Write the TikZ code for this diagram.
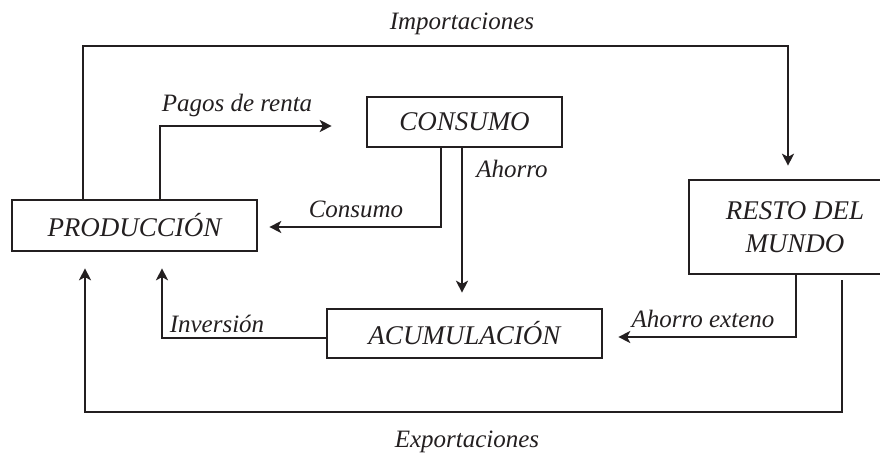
\documentclass[tikz,border=0pt]{standalone}
\usepackage{fontspec}
\setmainfont{Liberation Serif}
\usepackage{tikz}
\usetikzlibrary{arrows.meta}
\usetikzlibrary{positioning}
\definecolor{ink}{RGB}{35,31,32}
\tikzset{x=0.5pt, y=-0.5pt,
    sector/.style={
        draw=ink,
        line width=1.3pt,
        text=ink,
        inner sep=0pt,
        font=\fontsize{13.5}{16.5}\selectfont\itshape},
    flowlabel/.style={
        text=ink,
        inner sep=0pt,
        anchor=base,
        font=\fontsize{12.5}{15}\selectfont\itshape},
    flow/.style={
        draw=ink,
        line width=1pt,
        -{Stealth[length=6pt,width=6pt,inset=1.6pt]}}}

\begin{document}
\begin{tikzpicture}
    \useasboundingbox (0,0) rectangle (880,455);
        \node[sector, minimum width=122.5pt, minimum height=25.5pt] (prod) at (134.5,225.5) {PRODUCCIÓN};
        \node[sector, minimum width=97.5pt, minimum height=25pt] (cons) at (464.5,122) {CONSUMO};
        \node[sector, minimum width=137.5pt, minimum height=24.5pt] (acum) at (464.5,333.5) {ACUMULACIÓN};
        \node[sector, minimum width=106pt, minimum height=47pt, align=center] (resto) at (795,227) {RESTO DEL\\MUNDO};
        % turning points
        \coordinate (impL) at (83,46);
        \coordinate (impR) at (788,46);
        \coordinate (pagC) at (160,126);
        \coordinate (conC) at (441,227);
        \coordinate (ahoC) at (462,0);
        \coordinate (invC) at (162,338);
        \coordinate (aexC) at (796,337);
        \coordinate (expL) at (85,412);
        \coordinate (expR) at (842,412);
        \draw[flow, shorten >=6.5pt] (prod.north -| impL) -- (impL) -- (impR) -- (resto.north -| impR);
        \draw[flow, shorten >=17pt] (prod.north -| pagC) -- (pagC) -- (pagC -| cons.west);
        \draw[flow, shorten >=5.5pt] (cons.south -| conC) -- (conC) -- (conC -| prod.east);
        \draw[flow, shorten >=7.5pt] (cons.south -| ahoC) -- (acum.north -| ahoC);
        \draw[flow, shorten >=8pt] (acum.west |- invC) -- (invC) -- (prod.south -| invC);
        \draw[flow, shorten >=7.5pt] (resto.south -| aexC) -- (aexC) -- (aexC -| acum.east);
        \draw[flow, shorten <=2.5pt, shorten >=8pt] (resto.south -| expR) -- (expR) -- (expL) -- (prod.south -| expL);
        \node[flowlabel] (limp) at (462,30) {Importaciones};
        \node[flowlabel] (lpag) at (237,112) {Pagos de renta};
        \node[flowlabel] (lcon) at (356,217) {Consumo};
        \node[flowlabel] (laho) at (512,177) {Ahorro};
        \node[flowlabel] (linv) at (217,332) {Inversión};
        \node[flowlabel] (laex) at (703,327) {Ahorro exteno};
        \node[flowlabel] (lexp) at (467,447) {Exportaciones};
    \end{tikzpicture}
\end{document}
